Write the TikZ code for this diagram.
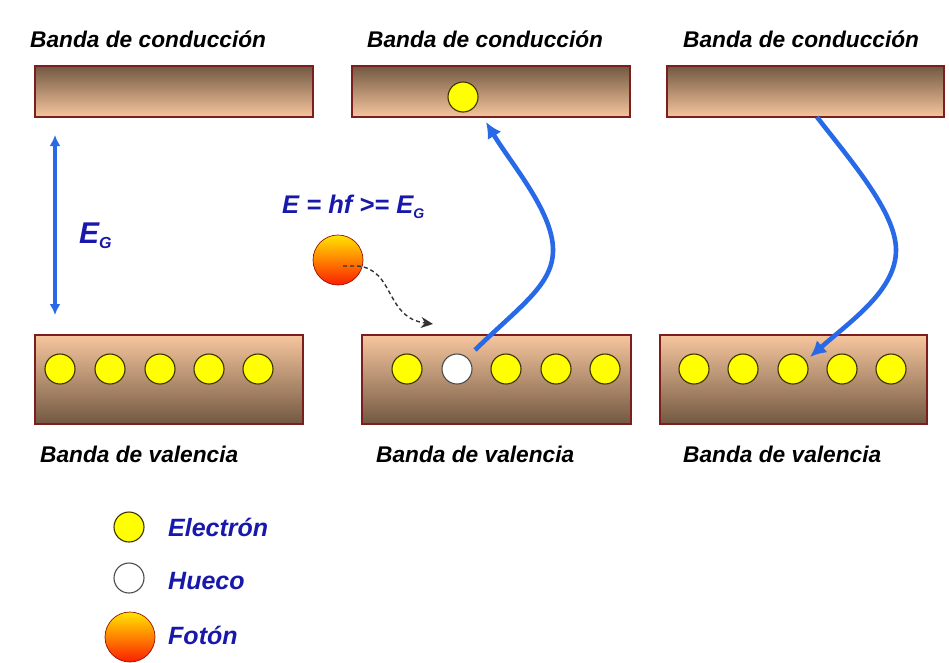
\documentclass[tikz,border=0pt]{standalone}
\usepackage{fontspec}
\setmainfont{Liberation Sans}
\usetikzlibrary{arrows.meta}
\definecolor{brownD}{RGB}{114,88,66}
\definecolor{brownL}{RGB}{246,198,158}
\definecolor{bandEdge}{RGB}{125,30,30}
\definecolor{txtBlue}{RGB}{24,24,170}
\definecolor{arrBlue}{RGB}{40,105,232}
\definecolor{elYel}{RGB}{255,255,0}
\definecolor{elEdge}{RGB}{60,50,0}
\definecolor{phY}{RGB}{255,228,0}
\definecolor{phO}{RGB}{255,130,0}
\definecolor{phR}{RGB}{250,30,0}
\tikzset{
  condband/.style={rectangle, draw=bandEdge, line width=1.3pt, inner sep=0pt,
    minimum height=51pt, top color=brownD, bottom color=brownL},
  valband/.style={rectangle, draw=bandEdge, line width=1.3pt, inner sep=0pt,
    minimum height=89pt, top color=brownL, bottom color=brownD},
  electron/.style={circle, fill=elYel, draw=elEdge, line width=1.1pt, minimum size=30pt, inner sep=0pt},
  hole/.style={circle, fill=white, draw=black!70, line width=1.1pt, minimum size=30pt, inner sep=0pt},
  photon/.style={circle, draw=phR!60!black, line width=0.7pt, minimum size=50pt, inner sep=0pt,
    top color=phY, bottom color=phR, middle color=phO},
  bandlabel/.style={anchor=base west, inner sep=0pt, font=\fontsize{22.7}{27}\selectfont\bfseries\itshape},
  bluelabel/.style={anchor=base west, inner sep=0pt, text=txtBlue, font=\fontsize{25}{30}\selectfont\bfseries\itshape},
  transition/.style={draw=arrBlue, line width=4.6pt, -{Latex[length=16pt,width=16pt]}},
}
\begin{document}
\begin{tikzpicture}[x=1pt,y=-1pt]
\useasboundingbox (0,0) rectangle (949,662);
% labels
\node[bandlabel] (lc1) at (30,47) {Banda de conducción};
\node[bandlabel] (lc2) at (367,47) {Banda de conducción};
\node[bandlabel] (lc3) at (683,47) {Banda de conducción};
\node[bandlabel] (lv1) at (40,462) {Banda de valencia};
\node[bandlabel] (lv2) at (376,462) {Banda de valencia};
\node[bandlabel] (lv3) at (683,462) {Banda de valencia};
% bands
\node[condband, minimum width=278pt] (c1) at (174,91.5) {};
\node[condband, minimum width=278pt] (c2) at (491,91.5) {};
\node[condband, minimum width=277pt] (c3) at (805.5,91.5) {};
\node[valband, minimum width=268pt] (v1) at (169,379.5) {};
\node[valband, minimum width=269pt] (v2) at (496.5,379.5) {};
\node[valband, minimum width=267pt] (v3) at (793.5,379.5) {};
% electrons
\node[electron] (a1) at (60,369) {};
\node[electron] (a2) at (110,369) {};
\node[electron] (a3) at (160,369) {};
\node[electron] (a4) at (209,369) {};
\node[electron] (a5) at (258,369) {};
\node[electron] (b1) at (407,369) {};
\node[hole] (hole) at (457,369) {};
\node[electron] (b3) at (506,369) {};
\node[electron] (b4) at (556,369) {};
\node[electron] (b5) at (605,369) {};
\node[electron] (e1) at (694,369) {};
\node[electron] (e2) at (743,369) {};
\node[electron] (e3) at (793,369) {};
\node[electron] (e4) at (842,369) {};
\node[electron] (e5) at (891,369) {};
\node[electron] (ce) at (463,97) {};
% energy gap
\coordinate (gt) at (55,135);
\coordinate (gb) at (55,315);
\draw[draw=arrBlue, line width=3.4pt, {Latex[length=11pt,width=11pt]}-{Latex[length=11pt,width=11pt]}] (gt) -- (gb);
\node[anchor=base west, inner sep=0pt, text=txtBlue, font=\fontsize{30}{34}\selectfont\bfseries\itshape] (eg) at (79,243) {E\raisebox{-5pt}{\fontsize{16}{18}\selectfont G}};
% photon
\node[bluelabel, font=\fontsize{25.5}{30}\selectfont\bfseries\itshape] (eq) at (282,213) {E = hf >= E\raisebox{-5pt}{\fontsize{14}{16}\selectfont G}};
\node[photon] (ph) at (338,260) {};
\coordinate (phs) at (343,266);
\coordinate (phe) at (433,324);
\draw[draw=black!80, dash pattern=on 4pt off 3pt, line width=1.4pt, -{Stealth[length=12pt,width=11pt]}] (phs) -- (358,266) .. controls (395,270) and (385,318) .. (phe);
% transitions
\coordinate (up0) at (475,350);
\coordinate (up1) at (486,122);
\draw[transition] (up0) .. controls (520,306) and (553,285) .. (553,250) .. controls (553,212) and (512,165) .. (up1);
\coordinate (dn0) at (817,117);
\coordinate (dn1) at (810,357);
\draw[transition] (dn0) .. controls (850,160) and (896,212) .. (896,250) .. controls (896,290) and (852,320) .. (dn1);
% legend
\node[electron] (le) at (129,527) {};
\node[hole] (lh) at (129,578) {};
\node[photon] (lp) at (130,637) {};
\node[bluelabel] (te) at (168,536) {Electrón};
\node[bluelabel] (th) at (168,589) {Hueco};
\node[bluelabel] (tp) at (168,644) {Fotón};
\end{tikzpicture}
\end{document}
